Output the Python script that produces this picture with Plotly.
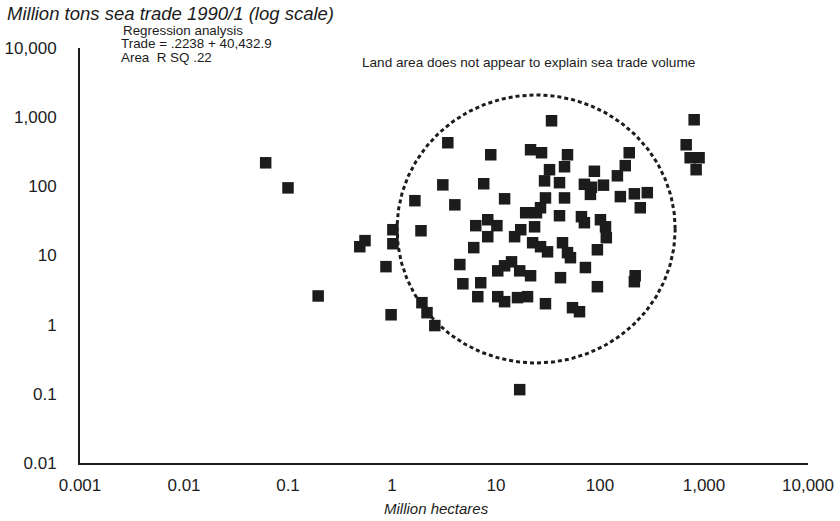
import numpy as np
import plotly.graph_objects as go

# ---- data (million hectares vs million tons sea trade) ----
area = [0.061, 0.10, 0.195, 0.49, 0.55, 0.875, 1.02, 1.02, 0.98, 1.66, 1.90, 1.94, 2.17, 2.58,
        3.08, 3.44, 4.02, 4.49, 4.80, 6.11, 6.68, 7.13, 7.62, 6.39, 8.33, 10.2, 8.33, 8.9, 10.4,
        12.1, 16.1, 20.1, 10.4, 12.1, 14.1, 16.9, 21.5, 12.1, 15.1, 17.3, 19.3, 21.5, 27.4, 23.5,
        22.5, 26.8, 31.3, 29.9, 26.8, 24.5, 34.2, 32.7, 29.3, 40.8, 48.7, 45.6, 45.6, 40.8, 43.6,
        48.7, 52, 29.9, 41.7, 54.4, 63.5, 16.9, 66.3, 70.8, 101, 113, 115, 94.4, 72.4, 94.4, 88.3,
        70.8, 82.7, 80.9, 108, 191, 175, 147, 214, 285, 157, 244, 218, 214, 804, 674, 736, 897, 840]
trade = [219, 95, 2.6, 13.4, 16.4, 6.9, 23.6, 14.8, 1.39, 62, 22.8, 2.08, 1.49, 0.97,
         105, 427, 54, 7.4, 3.9, 13.0, 2.54, 4.04, 109, 27, 32.9, 27, 18.7, 286, 2.54,
         2.15, 2.46, 2.54, 6.0, 7.1, 8.1, 6.0, 5.1, 66, 18.7, 23.6, 41.5, 338, 306, 26,
         15.3, 13.4, 11.3, 68, 49, 41.5, 887, 174, 120, 113, 286, 192, 68, 37.6, 15.3,
         11.0, 9.3, 2.01, 4.78, 1.76, 1.54, 0.115, 36.4, 29.8, 32.9, 26, 18.1, 12.1, 6.7, 3.54, 165,
         107, 97, 76.5, 104, 306, 199, 142, 78, 81, 71, 49, 5.1, 4.18, 917, 399, 259, 259, 174]
assert len(area) == len(trade)

x_tickvals = [0.001, 0.01, 0.1, 1, 10, 100, 1000, 10000]
x_ticktext = ["0.001", "0.01", "0.1", "1", "10", "100", "1,000", "10,000"]
y_tickvals = [0.01, 0.1, 1, 10, 100, 1000, 10000]
y_ticktext = ["0.01", "0.1", "1", "10", "100", "1,000", "10,000"]

# dashed ellipse (in log-decades) around the main cluster
circle_center = (24.3, 24.2)     # data units
circle_radii = (1.337, 1.937)    # decades in x, y

regression_lines = ["Regression analysis", "Trade = .2238 + 40,432.9", "Area  R SQ .22"]
note_text = "Land area does not appear to explain sea trade volume"

FONT = "Liberation Sans, Arial, Helvetica, sans-serif"
INK = "#1c1c1c"

W, H = 840, 521
L, R, T, B = 80, 32, 48, 58
PW, PH = W - L - R, H - T - B


def px(x):
    return (x - L) / PW


def py(y):
    return (H - B - y) / PH


fig = go.Figure()

t = np.linspace(0, 2 * np.pi, 241)
cx, cy = np.log10(circle_center[0]), np.log10(circle_center[1])
fig.add_trace(go.Scatter(
    x=10 ** (cx + circle_radii[0] * np.cos(t)),
    y=10 ** (cy + circle_radii[1] * np.sin(t)),
    mode="lines",
    line=dict(color=INK, width=3, dash="4px,3px"),
    hoverinfo="skip", showlegend=False,
))

fig.add_trace(go.Scatter(
    x=area, y=trade, mode="markers",
    marker=dict(symbol="square", size=11.5, color=INK, line=dict(width=0)),
    showlegend=False,
))

axis_common = dict(
    type="log", showgrid=False, zeroline=False, automargin=False,
    showline=True, linecolor=INK, linewidth=2,
    ticks="", tickfont=dict(family=FONT, size=17, color=INK),
)
fig.update_xaxes(range=[-3, 4], tickvals=x_tickvals, ticktext=x_ticktext,
                 ticklabelstandoff=6, **axis_common)
fig.update_yaxes(range=[-2, 4], tickvals=y_tickvals, ticktext=y_ticktext,
                 ticklabelstandoff=18, **axis_common)

annotations = [
    dict(text="<i>Million tons sea trade 1990/1 (log scale)</i>", x=px(5), y=py(13.5),
         xanchor="left", yanchor="middle", font=dict(size=18.5)),
    dict(text="<i>Million hectares</i>", x=px(436), y=py(508),
         xanchor="center", yanchor="middle", font=dict(size=15)),
    dict(text=note_text, x=px(360), y=py(62), xanchor="left", yanchor="middle",
         font=dict(size=13.6)),
]
for i, line in enumerate(regression_lines):
    annotations.append(dict(text=line, x=px(123 if i == 0 else 121), y=py(30.5 + 13.5 * i),
                            xanchor="left", yanchor="middle", borderpad=0, borderwidth=0,
                            font=dict(size=13.4)))
for a in annotations:
    a.update(xref="paper", yref="paper", showarrow=False)
    a["font"].update(family=FONT, color=INK)

fig.update_layout(
    width=W, height=H,
    margin=dict(l=L, r=R, t=T, b=B),
    paper_bgcolor="white", plot_bgcolor="white",
    font=dict(family=FONT, color=INK),
    annotations=annotations,
)

fig.write_html("out.html", config={"displayModeBar": False},
               post_script="document.body.style.margin='0';")
